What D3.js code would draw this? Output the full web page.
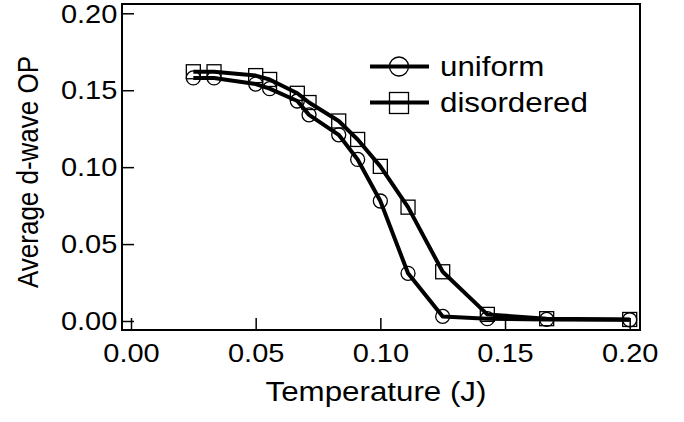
<!DOCTYPE html>
<html>
<head>
<meta charset="utf-8">
<script src="https://cdn.jsdelivr.net/npm/d3@7"></script>
<style>
  body { margin: 0; background: #fff; }
  text { font-family: "Liberation Sans", Arial, sans-serif; fill: #000; }
</style>
</head>
<body>
<svg id="chart" width="684" height="422"></svg>
<script>
// temperatures (J)
var temps = [0.025, 0.0333, 0.05, 0.0556, 0.0667, 0.0714, 0.0833, 0.0909, 0.1, 0.1111, 0.125, 0.1429, 0.1667, 0.2];
var uniformOP = [0.158, 0.158, 0.154, 0.151, 0.143, 0.134, 0.121, 0.105, 0.078, 0.031, 0.003, 0.0015, 0.001, 0.0008];
var disorderedOP = [0.162, 0.162, 0.1595, 0.157, 0.148, 0.142, 0.130, 0.118, 0.1005, 0.074, 0.032, 0.0043, 0.0015, 0.001];
var xTicks = [0, 0.05, 0.10, 0.15, 0.20];
var yTicks = [0, 0.05, 0.10, 0.15, 0.20];
var legendNames = ["uniform", "disordered"];

var stretch = 1.16; // text in the picture is a bit wide

var svg = d3.select("#chart");

var x = d3.scaleLinear().domain([0, 0.2]).range([131, 629.7]);
var y = d3.scaleLinear().domain([0, 0.2]).range([321, 13.3]);

var frame = {left: 122, right: 640, top: 4, bottom: 330};

// frame box
svg.append("rect")
    .attr("x", frame.left)
    .attr("y", frame.top)
    .attr("width", frame.right - frame.left)
    .attr("height", frame.bottom - frame.top)
    .attr("fill", "none")
    .attr("stroke", "#000")
    .attr("stroke-width", 2);

// x axis - ticks go up into the plot
var xAxis = svg.append("g")
    .attr("class", "x axis")
    .attr("transform", "translate(0," + frame.bottom + ")")
    .call(d3.axisTop(x).tickValues(xTicks).tickSize(12).tickFormat(d3.format(".2f")));
xAxis.select(".domain").remove();
xAxis.selectAll("line").attr("stroke-width", 1.5);
xAxis.selectAll("text")
    .attr("y", 32)
    .attr("dy", 0)
    .attr("transform", "scale(" + stretch + ",1)")
    .style("font-size", "25px")
    .style("font-family", "'Liberation Sans', Arial, sans-serif");

// y axis - ticks go right into the plot
var yAxis = svg.append("g")
    .attr("class", "y axis")
    .attr("transform", "translate(" + frame.left + ",0)")
    .call(d3.axisRight(y).tickValues(yTicks).tickSize(12).tickFormat(d3.format(".2f")));
yAxis.select(".domain").remove();
yAxis.selectAll("line").attr("stroke-width", 1.5);
yAxis.selectAll("text")
    .attr("x", -4)
    .attr("dy", "0.35em")
    .attr("text-anchor", "end")
    .attr("transform", "scale(" + stretch + ",1)")
    .style("font-size", "25px")
    .style("font-family", "'Liberation Sans', Arial, sans-serif");

// axis titles
svg.append("text")
    .attr("transform", "translate(376,401) scale(" + stretch + ",1)")
    .attr("text-anchor", "middle")
    .style("font-size", "27px")
    .text("Temperature (J)");

svg.append("text")
    .attr("transform", "translate(38,172) scale(" + stretch + ",1) rotate(-90)")
    .attr("text-anchor", "middle")
    .style("font-size", "26px")
    .text("Average d-wave OP");

var line = d3.line()
    .x(function (d) { return x(d[0]); })
    .y(function (d) { return y(d[1]); });

var uniData = temps.map(function (t, i) { return [t, uniformOP[i]]; });
var disData = temps.map(function (t, i) { return [t, disorderedOP[i]]; });

svg.append("path")
    .attr("d", line(uniData))
    .attr("fill", "none")
    .attr("stroke", "#000")
    .attr("stroke-width", 4)
    .attr("stroke-linejoin", "round");

svg.append("path")
    .attr("d", line(disData))
    .attr("fill", "none")
    .attr("stroke", "#000")
    .attr("stroke-width", 4)
    .attr("stroke-linejoin", "round");

// markers
svg.selectAll(".circ")
    .data(uniData)
    .enter().append("circle")
    .attr("cx", function (d) { return x(d[0]); })
    .attr("cy", function (d) { return y(d[1]); })
    .attr("r", 7)
    .attr("fill", "none")
    .attr("stroke", "#000")
    .attr("stroke-width", 1.3);

svg.selectAll(".sq")
    .data(disData)
    .enter().append("rect")
    .attr("x", function (d) { return x(d[0]) - 7; })
    .attr("y", function (d) { return y(d[1]) - 7; })
    .attr("width", 14)
    .attr("height", 14)
    .attr("fill", "none")
    .attr("stroke", "#000")
    .attr("stroke-width", 1.3);

// legend
var legend = svg.append("g").attr("transform", "translate(370,0)");
[66.5, 102.5].forEach(function (ly, i) {
    legend.append("line")
        .attr("x1", 0).attr("x2", 59)
        .attr("y1", ly).attr("y2", ly)
        .attr("stroke", "#000")
        .attr("stroke-width", 4);
    if (i === 0) {
        legend.append("circle")
            .attr("cx", 29).attr("cy", ly).attr("r", 9.5)
            .attr("fill", "none").attr("stroke", "#000").attr("stroke-width", 1.3);
    } else {
        legend.append("rect")
            .attr("x", 19.5).attr("y", ly - 10).attr("width", 19).attr("height", 21)
            .attr("fill", "none").attr("stroke", "#000").attr("stroke-width", 1.3);
    }
    legend.append("text")
        .attr("transform", "translate(70," + (ly + 9) + ") scale(" + stretch + ",1)")
        .style("font-size", "27px")
        .text(legendNames[i]);
});
</script>
</body>
</html>
